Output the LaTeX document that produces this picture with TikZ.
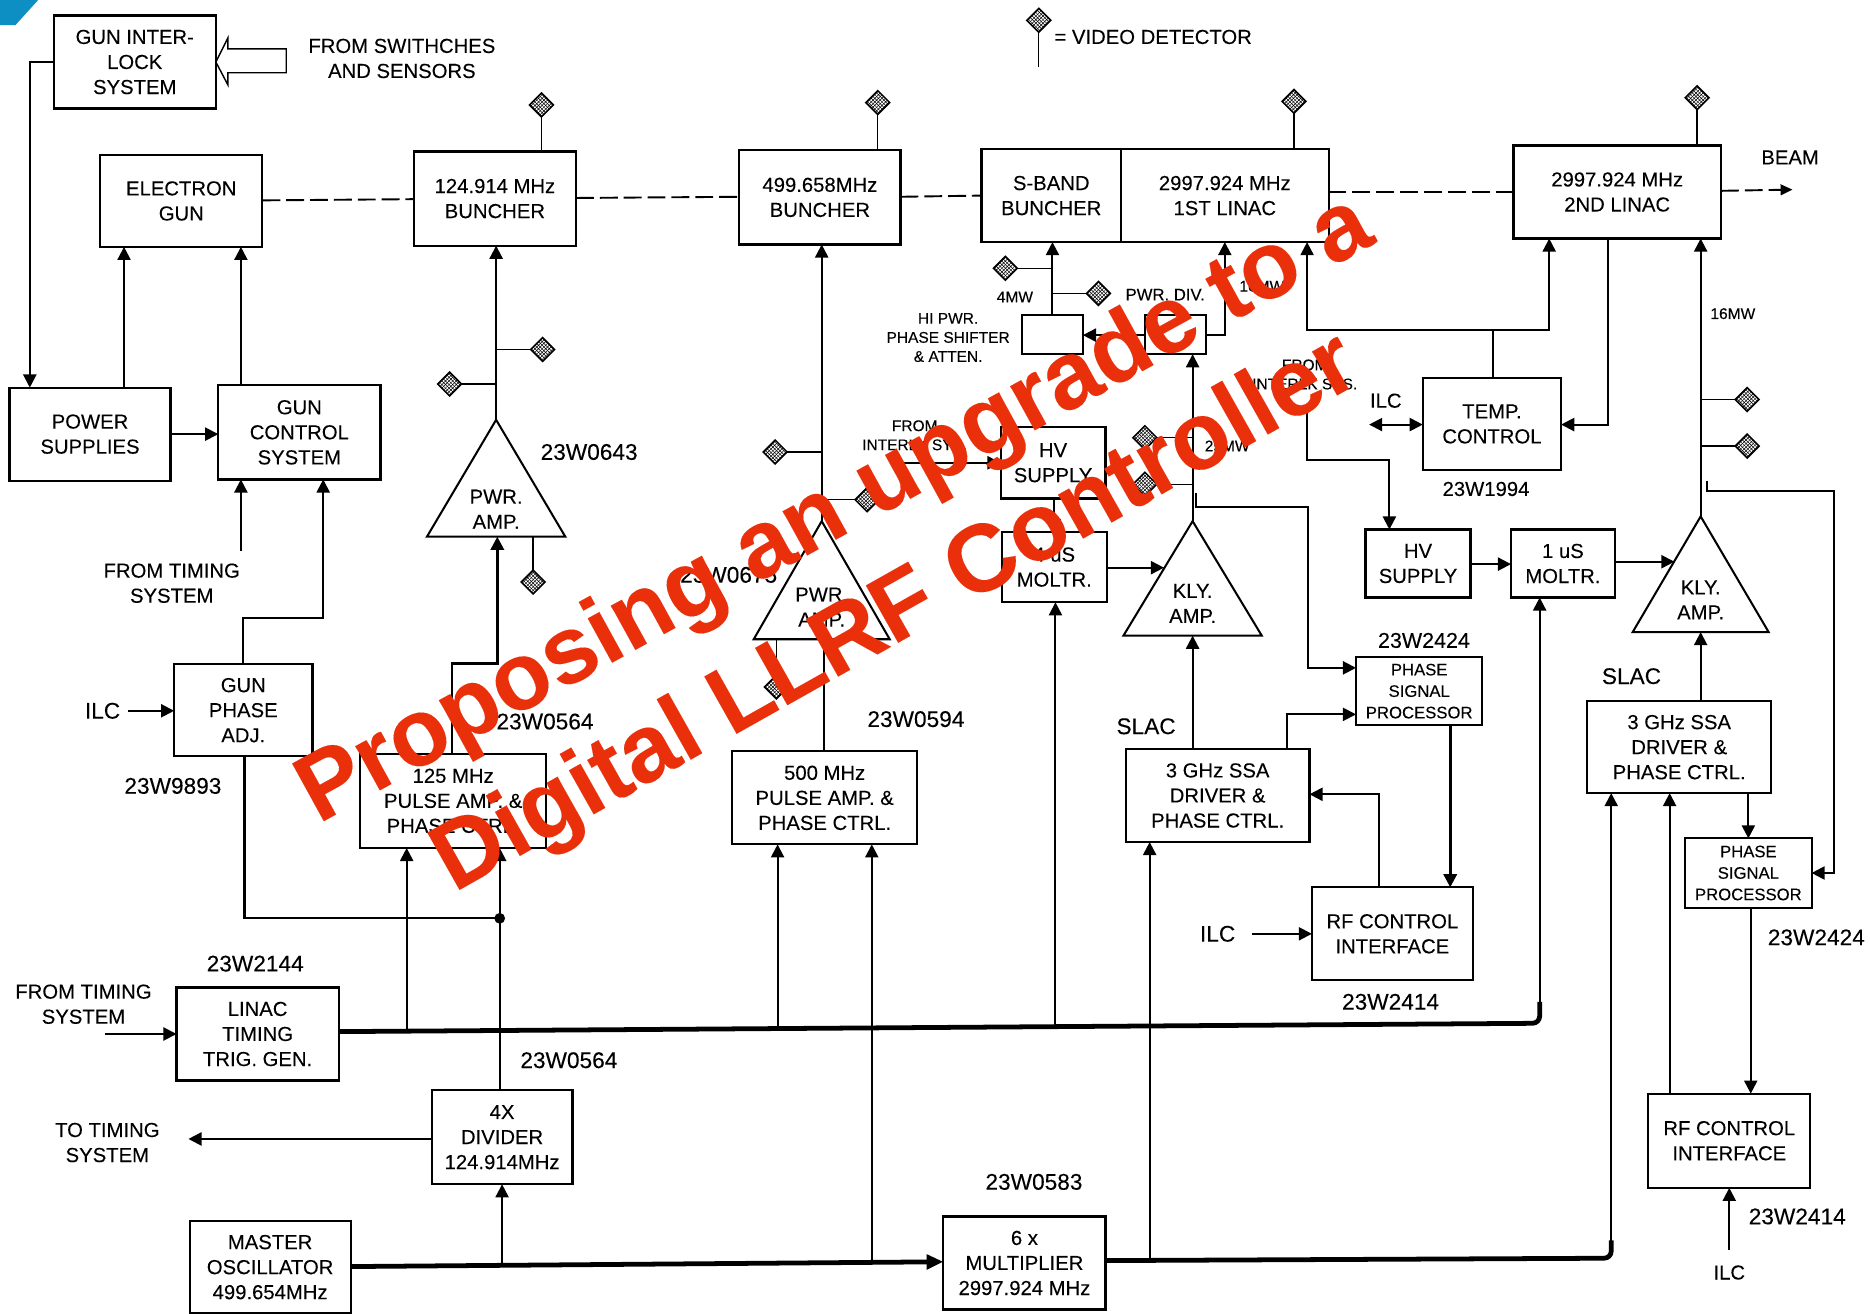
\documentclass[tikz,border=0pt]{standalone}
\usepackage{fontspec}
\setmainfont{Liberation Sans}[FakeBold=0.12]
\usetikzlibrary{arrows.meta,shapes.geometric,patterns}
\definecolor{overlayred}{HTML}{E9300A}
\definecolor{cornerblue}{HTML}{0E8FC4}
\tikzset{
  blk/.style={draw=black,line width=1.8pt,align=center,inner sep=0pt,outer sep=0pt,font=\fontsize{17}{21}\selectfont},
  small/.style={font=\fontsize{14}{18}\selectfont},
  lbl/.style={align=center,inner sep=0pt,font=\fontsize{17}{21}\selectfont},
  part/.style={align=center,inner sep=0pt,font=\fontsize{19}{23}\selectfont},
  tiny/.style={align=center,inner sep=0pt,font=\fontsize{13}{16}\selectfont},
  ln/.style={draw=black,line width=1.7pt},
  hvy/.style={line width=2.4pt},
  arr/.style={ln,-{Triangle[length=11pt,width=11pt]}},
  barr/.style={ln,{Triangle[length=11pt,width=11pt]}-{Triangle[length=11pt,width=11pt]}},
  bus/.style={draw=black,line width=4pt,rounded corners=6pt},
  busarr/.style={draw=black,line width=4pt,-{Triangle[length=14pt,width=12pt]}},
  tap/.style={draw=black,line width=1.1pt},
  beam/.style={draw=black,line width=1.6pt,dash pattern=on 15pt off 5pt},
  det/.style={diamond,draw=black,line width=1.3pt,minimum size=20pt,inner sep=0pt,outer sep=0pt,pattern=crosshatch,pattern color=black},
  overlay/.style={text=overlayred,inner sep=0pt,font=\bfseries\fontsize{80}{88}\selectfont}
}
\newcommand\bx[6][]{%
  \pgfmathsetmacro\bxcx{(#3+#5)/2}\pgfmathsetmacro\bxcy{(#4+#6)/2}%
  \pgfmathsetmacro\bxw{#5-#3}\pgfmathsetmacro\bxh{#6-#4}%
  \node[blk,minimum width=\bxw pt,minimum height=\bxh pt,#1] (#2) at (\bxcx,\bxcy) {\txtarg};}
\newcommand\tri[7][27]{% text lift, name, apex x, apex y, half width, base y, text
  \coordinate (#2-t) at (#3,#4);
  \pgfmathsetmacro\tl{#3-#5}\pgfmathsetmacro\tr{#3+#5}\pgfmathsetmacro\tm{#6-#1}%
  \coordinate (#2-l) at (\tl,#6);
  \coordinate (#2-r) at (\tr,#6);
  \draw[ln,line join=miter] (#2-t) -- (#2-l) -- (#2-r) -- cycle;
  \node[lbl] (#2) at (#3,\tm) {#7};}
\begin{document}
\begin{tikzpicture}[x=1pt,y=-1pt]
\useasboundingbox (0,0) rectangle (1568,1101);
\fill[cornerblue] (0,0) -- (32,0) -- (13,21) -- (0,21) -- cycle;

% boxes
\def\txtarg{GUN INTER-\\LOCK\\SYSTEM}\bx{gil}{45}{13}{181}{91}
\def\txtarg{ELECTRON\\GUN}\bx{egun}{84}{130}{220}{207}
\def\txtarg{124.914 MHz\\BUNCHER}\bx{bun1}{347}{127}{483}{206}
\def\txtarg{499.658MHz\\BUNCHER}\bx{bun2}{620}{126}{755}{205}
\def\txtarg{S-BAND\\BUNCHER}\bx{sband}{823}{125}{940}{203}
\def\txtarg{2997.924 MHz\\1ST LINAC}\bx{lin1}{940}{125}{1114}{203}
\def\txtarg{2997.924 MHz\\2ND LINAC}\bx{lin2}{1269}{122}{1443}{200}
\def\txtarg{POWER\\SUPPLIES}\bx{ps}{8}{325}{143}{403}
\def\txtarg{GUN\\CONTROL\\SYSTEM}\bx{gcs}{183}{323}{319}{402}
\def\txtarg{}\bx{hips}{857}{264}{908}{297}
\def\txtarg{}\bx{pdiv}{960}{264}{1011}{297}
\def\txtarg{HV\\SUPPLY}\bx{hva}{839}{358}{927}{418}
\def\txtarg{4 uS\\MOLTR.}\bx{moda}{840}{446}{928}{505}
\def\txtarg{TEMP.\\CONTROL}\bx{temp}{1193}{317}{1309}{394}
\def\txtarg{HV\\SUPPLY}\bx{hvb}{1145}{444}{1233}{501}
\def\txtarg{1 uS\\MOLTR.}\bx{modb}{1267}{444}{1354}{501}
\def\txtarg{GUN\\PHASE\\ADJ.}\bx{gpa}{146}{557}{262}{634}
\def\txtarg{125 MHz\\PULSE AMP. \&\\PHASE CTRL.}\bx{pa}{302}{632}{458}{711}
\def\txtarg{500 MHz\\PULSE AMP. \&\\PHASE CTRL.}\bx{pb}{614}{630}{769}{708}
\def\txtarg{3 GHz SSA\\DRIVER \&\\PHASE CTRL.}\bx{ssaa}{944}{628}{1098}{706}
\def\txtarg{PHASE\\SIGNAL\\PROCESSOR}\bx[small]{pspa}{1137}{551}{1243}{608}
\def\txtarg{RF CONTROL\\INTERFACE}\bx{rfa}{1100}{744}{1235}{822}
\def\txtarg{3 GHz SSA\\DRIVER \&\\PHASE CTRL.}\bx{ssab}{1331}{588}{1485}{665}
\def\txtarg{PHASE\\SIGNAL\\PROCESSOR}\bx[small]{pspb}{1413}{703}{1519}{761}
\def\txtarg{RF CONTROL\\INTERFACE}\bx{rfb}{1382}{917}{1518}{996}
\def\txtarg{LINAC\\TIMING\\TRIG. GEN.}\bx{ltg}{148}{828}{284}{906}
\def\txtarg{4X\\DIVIDER\\124.914MHz}\bx{div}{362}{914}{480}{993}
\def\txtarg{MASTER\\OSCILLATOR\\499.654MHz}\bx{mo}{159}{1024}{294}{1101}
\def\txtarg{6 x\\MULTIPLIER\\2997.924 MHz}\bx{mult}{791}{1020}{927}{1098}

% triangles
\tri[23]{ampa}{416}{352}{58}{450}{PWR.\\AMP.}
\tri{ampb}{689}{437}{57}{536}{PWR.\\AMP.}
\tri{klya}{1000}{437}{58}{533}{KLY.\\AMP.}
\tri{klyb}{1426}{433}{57}{530}{KLY.\\AMP.}

% detectors
\node[det] (d1) at (454,88) {};
\node[det] (d2) at (736,86) {};
\node[det] (d3) at (1085,85) {};
\node[det] (d4) at (1423,82) {};
\node[det] (dk) at (871,17) {};
\node[det] (d5) at (455,293) {};
\node[det] (d6) at (377,322) {};
\node[det] (d7) at (447,488) {};
\node[det] (d8) at (650,379) {};
\node[det] (d9) at (727,419) {};
\node[det] (d10) at (651,576) {};
\node[det] (d11) at (843,225) {};
\node[det] (d12) at (921,246) {};
\node[det] (d13) at (960,367) {};
\node[det] (d14) at (960,406) {};
\node[det] (d15) at (1465,335) {};
\node[det] (d16) at (1465,374) {};

% free ends
\coordinate (keyend) at (871,56);
\coordinate (beamend) at (1503,159);
\coordinate (hol1) at (181,52);
\coordinate (timea) at (202,462);
\coordinate (ilca) at (107,596);
\coordinate (timeb) at (88,867);
\coordinate (totime) at (158,955);
\coordinate (junc) at (419,770);
\coordinate (ilcb) at (1050,783);
\coordinate (ilcc) at (1450,1048);
\coordinate (ilcl) at (1148,356);
\coordinate (intla) at (757,388);
\coordinate (intlb) at (1096,345);

% beam line
\draw[beam] (egun.east |- 0,168) -- (bun1.west |- 0,167);
\draw[beam] (bun1.east |- 0,166) -- (bun2.west |- 0,165);
\draw[beam] (bun2.east |- 0,165) -- (sband.west |- 0,164);
\draw[beam] (lin1.east |- 0,161) -- (lin2.west |- 0,161);
\draw[beam,-{Triangle[length=10pt,width=9pt]}] (lin2.east |- 0,160) -- (beamend);

% detector taps
\draw[tap] (d1) -- (d1 |- bun1.north);
\draw[tap] (d2) -- (d2 |- bun2.north);
\draw[tap] (d3) -- (d3 |- lin1.north);
\draw[tap] (d4) -- (d4 |- lin2.north);
\draw[tap] (dk) -- (keyend);
\draw[tap] (d5) -- (d5 -| ampa-t);
\draw[tap] (d6) -- (d6 -| ampa-t);
\draw[tap] (d7) -- (d7 |- ampa-l);
\draw[tap] (d8) -- (d8 -| ampb-t);
\draw[tap] (d9) -- (d9 -| ampb-t);
\draw[tap] (d10) -- (d10 |- ampb-l);
\draw[tap] (d11) -- (d11 -| hips);
\draw[tap] (d12) -- (d12 -| hips);
\draw[tap] (d13) -- (d13 -| klya-t);
\draw[tap] (d14) -- (d14 -| klya-t);
\draw[tap] (d15) -- (d15 -| klyb-t);
\draw[tap] (d16) -- (d16 -| klyb-t);

% hollow arrow
\draw[ln,line width=1.2pt] (hol1) -- (191,32) -- (191,41) -- (240,41) -- (240,61) -- (191,61) -- (191,71) -- cycle;

% left column
\draw[arr] (gil.west |- 0,52) -- (25,52) -- (25,0 |- ps.north);
\draw[arr] (104,0 |- ps.north) -- (104,0 |- egun.south);
\draw[arr] (202,0 |- gcs.north) -- (202,0 |- egun.south);
\draw[arr] (ps.east |- 0,364) -- (gcs.west |- 0,364);
\draw[arr] (timea) -- (timea |- gcs.south);
\draw[arr] (204,0 |- gpa.north) -- (204,518) -- (271,518) -- (271,0 |- gcs.south);
\draw[arr] (ilca) -- (ilca -| gpa.west);
\draw[ln] (205,0 |- gpa.south) -- (205,770) -- (junc);
\fill (junc) circle (4.5pt);
\draw[arr] (timeb) -- (timeb -| ltg.west);
\draw[arr] (div.west |- totime) -- (totime);

% buses
\draw[bus] (ltg.east |- 0,865) -- (1291,858) -- (1291,840);
\draw[arr] (1291,842) -- (1291,0 |- modb.south);
\draw[busarr] (mo.east |- 0,1062) -- (mult.west |- 0,1058);
\draw[bus] (mult.east |- 0,1057) -- (1351,1055) -- (1351,1040);
\draw[arr] (1351,1042) -- (1351,0 |- ssab.south);
\draw[arr] (341,865) -- (341,0 |- pa.south);
\draw[arr] (419,0 |- div.north) -- (419,0 |- pa.south);
\draw[arr] (652,863) -- (652,0 |- pb.south);
\draw[arr] (731,1060) -- (731,0 |- pb.south);
\draw[arr] (885,861) -- (885,0 |- moda.south);
\draw[arr] (964,1056) -- (964,0 |- ssaa.south);
\draw[arr] (421,1061) -- (421,0 |- div.south);

% 125 MHz chain
\draw[arr,hvy] (379,0 |- pa.north) -- (379,556) -- (417,556) -- (417,0 |- ampa-l);
\draw[arr] (ampa-t) -- (ampa-t |- bun1.south);

% 500 MHz chain
\draw[ln] (691,0 |- pb.north) -- (691,0 |- ampb-l);
\draw[arr] (ampb-t) -- (ampb-t |- bun2.south);

% first klystron
\draw[arr] (1000,0 |- ssaa.north) -- (1000,0 |- klya-l);
\draw[arr] (klya-t) -- (klya-t |- pdiv.south);
\draw[arr] (moda.east |- 0,476) -- (976,476);
\draw[arr] (hva.south) -- (hva.south -| moda.north) -- (moda.north);
\draw[arr] (intla) -- (intla -| hva.west);
\draw[arr] (pdiv.west |- 0,281) -- (hips.east |- 0,281);
\draw[arr] (hips.north) -- (hips.north |- sband.south);
\draw[arr] (pdiv.east |- 0,281) -- (1027,281) -- (1027,0 |- lin1.south);
\draw[arr] (1003,413) -- (1003,425) -- (1097,425) -- (1097,560) -- (pspa.west |- 0,560);
\draw[arr] (1079,0 |- ssaa.north) -- (1079,599) -- (pspa.west |- 0,599);
\draw[arr,hvy] (1216,0 |- pspa.south) -- (1216,0 |- rfa.north);
\draw[arr] (1156,0 |- rfa.north) -- (1156,666) -- (ssaa.east |- 0,666);
\draw[arr] (ilcb) -- (ilcb -| rfa.west);

% temp and second klystron
\draw[arr] (1252,0 |- temp.north) -- (1252,277) -- (1096,277) -- (1096,0 |- lin1.south);
\draw[arr] (1252,277) -- (1299,277) -- (1299,0 |- lin2.south);
\draw[arr] (1348,0 |- lin2.south) -- (1348,356) -- (temp.east |- 0,356);
\draw[barr] (ilcl) -- (ilcl -| temp.west);
\draw[arr] (intlb) -- (1096,386) -- (1165,386) -- (1165,0 |- hvb.north);
\draw[arr] (hvb.east |- 0,473) -- (modb.west |- 0,473);
\draw[arr] (modb.east |- 0,471) -- (1404,471);
\draw[arr] (klyb-t) -- (klyb-t |- lin2.south);
\draw[arr] (1426,0 |- ssab.north) -- (1426,0 |- klyb-l);
\draw[arr] (1466,0 |- ssab.south) -- (1466,0 |- pspb.north);
\draw[arr] (1431,403) -- (1431,412) -- (1538,412) -- (1538,732) -- (pspb.east |- 0,732);
\draw[arr] (1468,0 |- pspb.south) -- (1468,0 |- rfb.north);
\draw[arr] (1400,0 |- rfb.north) -- (1400,0 |- ssab.south);
\draw[arr] (ilcc) -- (ilcc |- rfb.south);

% labels
\node[lbl] (t1) at (337,49) {FROM SWITHCHES\\AND SENSORS};
\node[lbl,anchor=west] (t2) at (884,31) {= VIDEO DETECTOR};
\node[lbl] (t3) at (1501,132) {BEAM};
\node[part] (t4) at (494,379) {23W0643};
\node[part] (t5) at (611,482) {23W0675};
\node[lbl] (t6) at (144,489) {FROM TIMING\\SYSTEM};
\node[part] (t7) at (86,596) {ILC};
\node[part] (t8) at (145,659) {23W9893};
\node[part] (t9) at (457,605) {23W0564};
\node[part] (t10) at (768,603) {23W0594};
\node[part] (t11) at (961,609) {SLAC};
\node[part,font=\fontsize{18}{22}\selectfont] (t12) at (1194,537) {23W2424};
\node[part] (t13) at (1368,567) {SLAC};
\node[part] (t14) at (1523,786) {23W2424};
\node[part] (t15) at (214,808) {23W2144};
\node[lbl] (t16) at (70,842) {FROM TIMING\\SYSTEM};
\node[part] (t17) at (1166,840) {23W2414};
\node[part] (t18) at (477,889) {23W0564};
\node[lbl] (t19) at (90,958) {TO TIMING\\SYSTEM};
\node[part] (t20) at (867,991) {23W0583};
\node[part] (t21) at (1021,783) {ILC};
\node[part] (t22) at (1507,1020) {23W2414};
\node[lbl] (t23) at (1450,1067) {ILC};
\node[part,font=\fontsize{17}{21}\selectfont] (t24) at (1246,410) {23W1994};
\node[part,font=\fontsize{17}{21}\selectfont] (t25) at (1162,336) {ILC};
\node[tiny] (t26) at (767,365) {FROM\\INTERLK SYS.};
\node[tiny] (t27) at (1094,314) {FROM\\INTERLK SYS.};
\node[tiny] (t28) at (1453,263) {16MW};
\node[tiny] (t29) at (851,249) {4MW};
\node[tiny,font=\fontsize{14}{17}\selectfont] (t30) at (977,247) {PWR. DIV.};
\node[tiny] (t31) at (795,283) {HI PWR.\\PHASE SHIFTER\\\& ATTEN.};
\node[tiny] (t32) at (1058,240) {16MW};
\node[tiny] (t33) at (1029,374) {25MW};

% overlay
\node[overlay,rotate=28.8] (ov1) at (701,429) {Proposing an upgrade to a};
\node[overlay,rotate=29.4] (ov2) at (752,516) {Digital LLRF Controller};
\end{tikzpicture}
\end{document}
